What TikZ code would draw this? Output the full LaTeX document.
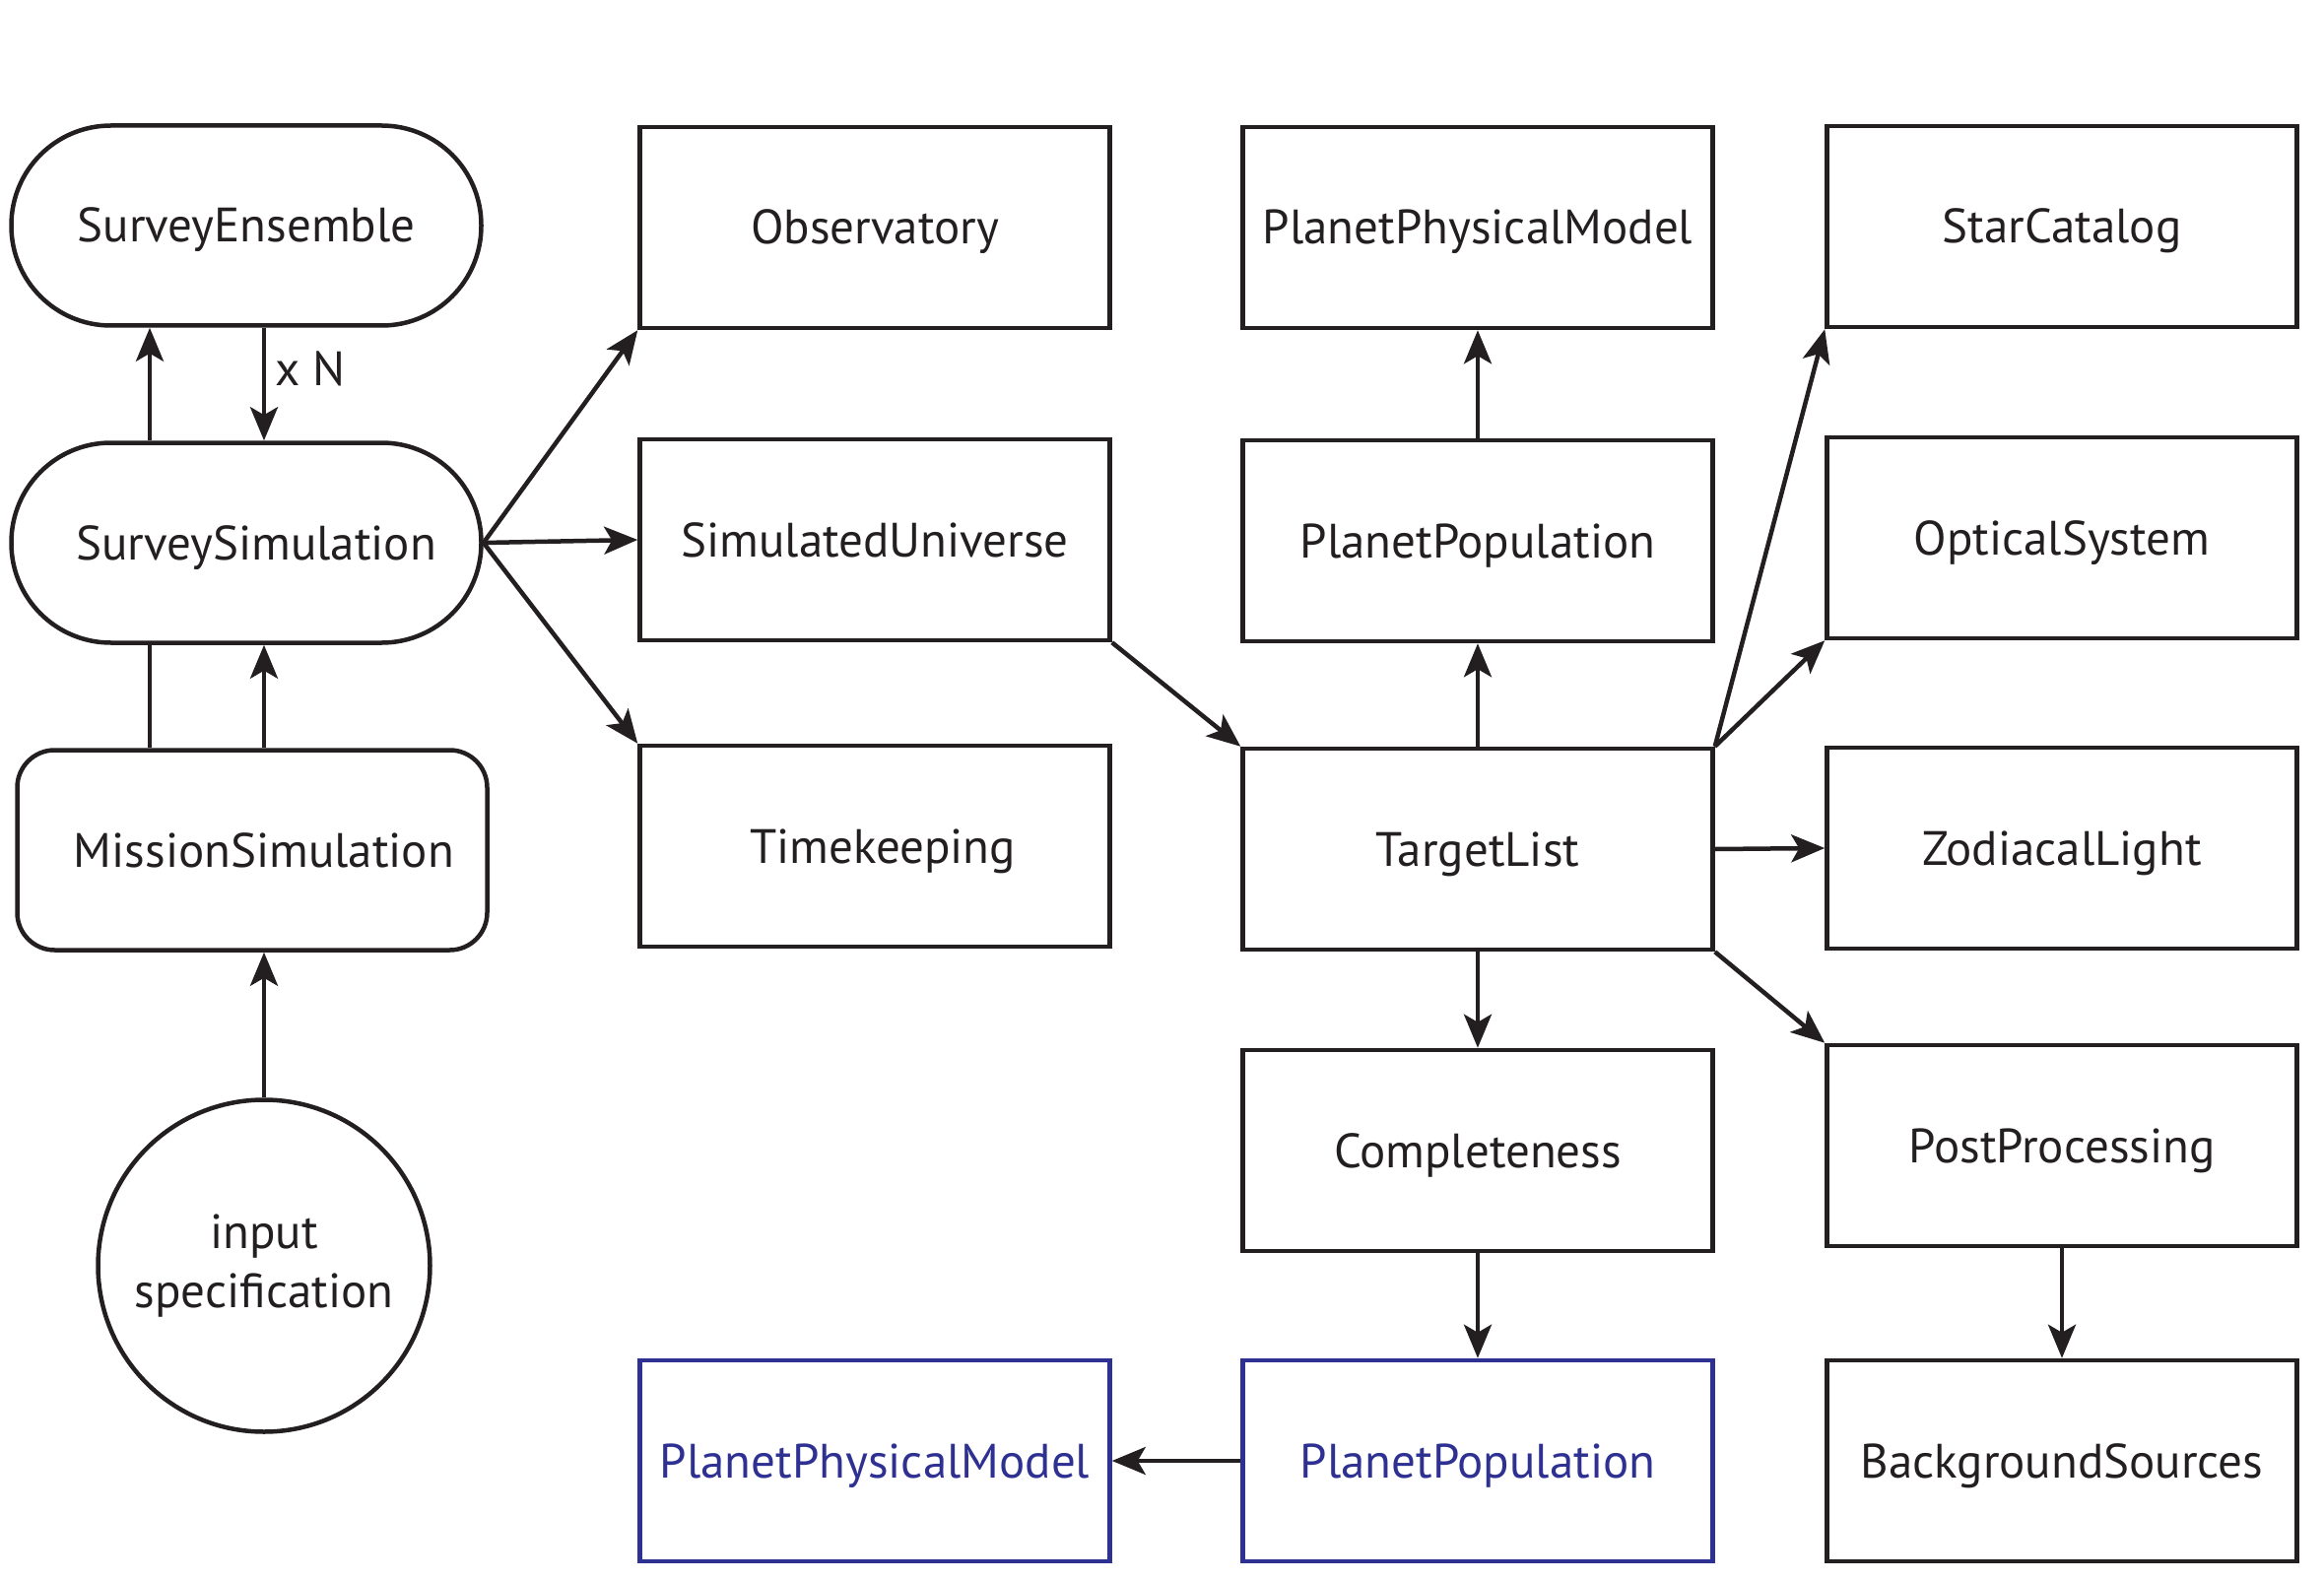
\documentclass[tikz,border=0pt]{standalone}
\usepackage{fontspec}
\setmainfont{PT Sans}
\usetikzlibrary{arrows.meta}
\definecolor{ink}{HTML}{231F20}
\definecolor{navy}{HTML}{2E3192}
\begin{document}
\begin{tikzpicture}[x=1pt,y=-1pt,
  lbl/.style={text=ink, font=\fontsize{49}{60}\selectfont},
  box/.style={lbl, draw=ink, line width=4.5pt, minimum width=477pt, minimum height=204pt, inner sep=0pt, text height=34pt, text depth=0pt},
  bluebox/.style={box, draw=navy, text=navy},
  stadium/.style={box, rounded corners=101pt, minimum height=203pt},
  roundbox/.style={box, rounded corners=38pt},
  circ/.style={lbl, draw=ink, line width=4.5pt, circle, minimum size=337pt, inner sep=0pt, align=center},
  arr/.style={draw=ink, line width=4.5pt, -{Stealth[length=34pt,width=28pt,inset=8pt]}},
  plain/.style={draw=ink, line width=4.5pt}]
\useasboundingbox (0,0) rectangle (2359,1605);
% left column
\node[stadium] (se) at (250,229) {SurveyEnsemble};
\node[stadium] (ss) at (250,551) {\hspace*{20pt}SurveySimulation};
\node[roundbox, minimum height=203pt] (ms) at (256,863) {\hspace*{24pt}MissionSimulation};
\node[circ] (ip) at (268,1285) {input\\specification};
\coordinate (c1) at (152,0);
\coordinate (c2) at (268,0);
% second column
\node[box] (obs) at (888,231) {Observatory};
\node[box] (su) at (888,548) {SimulatedUniverse};
\node[box] (tk) at (888,859) {\hspace*{16pt}Timekeeping};
\node[bluebox] (bppm) at (888,1483) {PlanetPhysicalModel};
% third column
\node[box] (ppm) at (1500,231) {PlanetPhysicalModel};
\node[box] (pp) at (1500,549) {PlanetPopulation};
\node[box] (tl) at (1500,862) {TargetList};
\node[box] (comp) at (1500,1168) {Completeness};
\node[bluebox] (bpp) at (1500,1483) {PlanetPopulation};
% fourth column
\node[box] (sc) at (2093,230) {StarCatalog};
\node[box] (os) at (2093,546) {OpticalSystem};
\node[box] (zl) at (2093,861) {ZodiacalLight};
\node[box] (post) at (2093,1163) {PostProcessing};
\node[box] (bs) at (2093,1483) {BackgroundSources};
% connectors, left column
\draw[arr] (c1 |- ss.north) -- (c1 |- se.south);
\draw[arr] (c2 |- se.south) -- node[lbl, right=6pt, pos=0.36] (xn) {x N} (c2 |- ss.north);
\draw[plain] (c1 |- ms.north) -- (c1 |- ss.south);
\draw[arr] (c2 |- ms.north) -- (c2 |- ss.south);
\draw[arr] (ip.north) -- (ip.north |- ms.south);
% from SurveySimulation
\draw[arr] (ss.east) -- (obs.south west);
\draw[arr] (ss.east) -- (su.west);
\draw[arr] (ss.east) -- (tk.north west);
\draw[arr] (su.south east) -- (tl.north west);
% TargetList
\draw[arr] (tl.north) -- (pp.south);
\draw[arr] (pp.north) -- (ppm.south);
\draw[arr] (tl.north east) -- (sc.south west);
\draw[arr] (tl.north east) -- (os.south west);
\draw[arr] (tl.east) -- (zl.west);
\draw[arr] (tl.south east) -- (post.north west);
\draw[arr] (tl.south) -- (comp.north);
\draw[arr] (comp.south) -- (bpp.north);
\draw[arr] (bpp.west) -- (bppm.east);
\draw[arr] (post.south) -- (bs.north);
\end{tikzpicture}
\end{document}
